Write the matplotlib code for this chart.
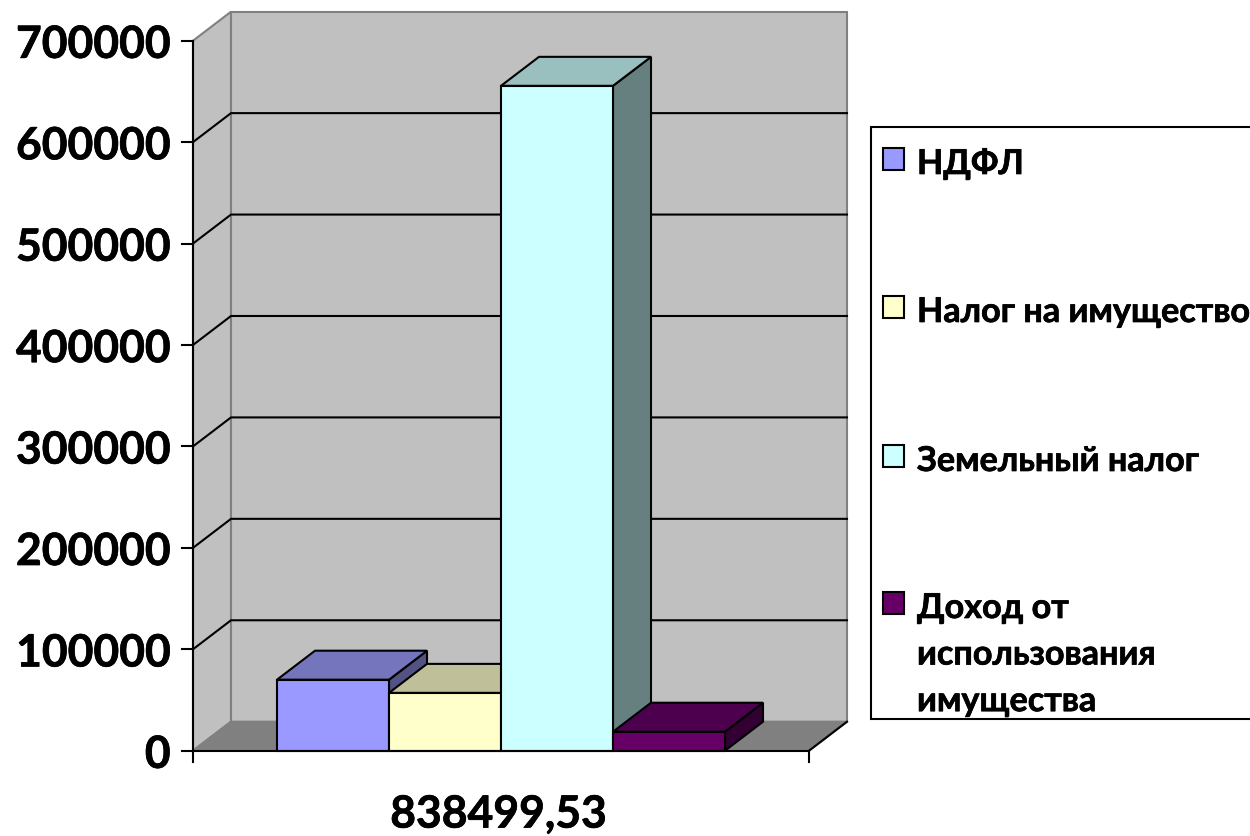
#!/usr/bin/env python3
import matplotlib
matplotlib.use('Agg')
import matplotlib.pyplot as plt
import matplotlib.patheffects as pe
from matplotlib.patches import Rectangle

# data
series = ['НДФЛ', 'Налог на имущество', 'Земельный налог', 'Доход от\nиспользования\nимущества']
values = [70000, 57000, 655500, 18700]
yticks = [0, 100000, 200000, 300000, 400000, 500000, 600000, 700000]
category = '838499,53'

front_cols = ['#9999FF', '#FFFFCC', '#CCFFFF', '#660066']
top_cols = ['#7575BD', '#BFBF99', '#99BFBF', '#4D004D']
side_cols = ['#525285', '#808066', '#668080', '#330033']

W, H = 1250, 837
FONT = ['Lato', 'Open Sans', 'DejaVu Sans']
LW = 1.5
HEAVY = [pe.withStroke(linewidth=0.5, foreground='black')]

fig = plt.figure(figsize=(12.5, 8.37), dpi=100, facecolor='white')
ax = fig.add_axes([193/W, (H-751.7)/H, 616/W, 710/H])
ax.set_xlim(0, 5.5)
ax.set_ylim(0, 700000)
ax.axis('off')

# depth offset of the 3d box, in data units
DX = 38 / 112
DY = 29 / 710 * 700000
top = yticks[-1]

# walls and floor
ax.fill([0, DX, DX, 0], [0, DY, top+DY, top], fc='#C0C0C0', ec='#808080', lw=LW, zorder=1, clip_on=False)
ax.fill([DX, 5.5+DX, 5.5+DX, DX], [DY, DY, top+DY, top+DY], fc='#C0C0C0', ec='#808080', lw=LW, zorder=1, clip_on=False)
ax.fill([0, 5.5, 5.5+DX, DX], [0, 0, DY, DY], fc='#808080', ec='#808080', lw=LW, zorder=1, clip_on=False)

for t in yticks[1:-1]:
    ax.plot([0, DX, 5.5+DX], [t, t+DY, t+DY], color='black', lw=LW, zorder=2, clip_on=False)
ax.plot([5.5, 5.5+DX], [0, DY], color='black', lw=LW, zorder=2, clip_on=False)

# bars, left to right so each one covers the previous side face
z = 3
for i, v in enumerate(values):
    x0 = 0.75 + i
    x1 = x0 + 1
    ax.fill([x1, x1+DX, x1+DX, x1], [0, DY, v+DY, v], fc=side_cols[i], ec='black', lw=LW, zorder=z, clip_on=False, joinstyle='miter')
    ax.fill([x0, x1, x1+DX, x0+DX], [v, v, v+DY, v+DY], fc=top_cols[i], ec='black', lw=LW, zorder=z+1, clip_on=False, joinstyle='miter')
    ax.bar(x0, v, width=1, align='edge', color=front_cols[i], edgecolor='black', lw=LW, zorder=z+2, clip_on=False)
    z += 3

# front axes lines and ticks
ax.plot([0, 0], [0, top], color='black', lw=LW, zorder=30, clip_on=False)
ax.plot([0, 5.5], [0, 0], color='black', lw=LW, zorder=30, clip_on=False)
ax.plot([0, 0], [0, -11000], color='black', lw=LW, zorder=30, clip_on=False)
ax.plot([5.5, 5.5], [0, -11000], color='black', lw=LW, zorder=30, clip_on=False)
for t in yticks:
    ax.plot([-0.1, 0], [t, t], color='black', lw=LW, zorder=30, clip_on=False)
    ax.annotate(str(t), xy=(-0.2, t), xytext=(0, -3), textcoords='offset points', ha='right', va='center',
                fontsize=32, fontweight='bold', family=FONT, color='black', path_effects=HEAVY,
                annotation_clip=False)
ax.text(2.73, -63000, category, ha='center', va='center', fontsize=32, fontweight='bold', family=FONT,
        color='black', path_effects=HEAVY)

# legend, drawn in pixel coordinates
lax = fig.add_axes([0, 0, 1, 1], facecolor='none')
lax.set_xlim(0, W)
lax.set_ylim(H, 0)
lax.axis('off')
lax.add_patch(Rectangle((871, 128), 390, 592, fc='white', ec='black', lw=LW, clip_on=True))
legend_y = [160, 308, 457, 604]
for s, c, y in zip(series, front_cols, legend_y):
    lax.add_patch(Rectangle((883, y-11), 21, 22, fc=c, ec='black', lw=LW))
    lax.text(917, y-11, s, ha='left', va='top', fontsize=24.6, fontweight='bold', family=FONT,
             color='black', linespacing=1.56, path_effects=HEAVY)

fig.savefig('out.png', dpi=100, facecolor='white')
